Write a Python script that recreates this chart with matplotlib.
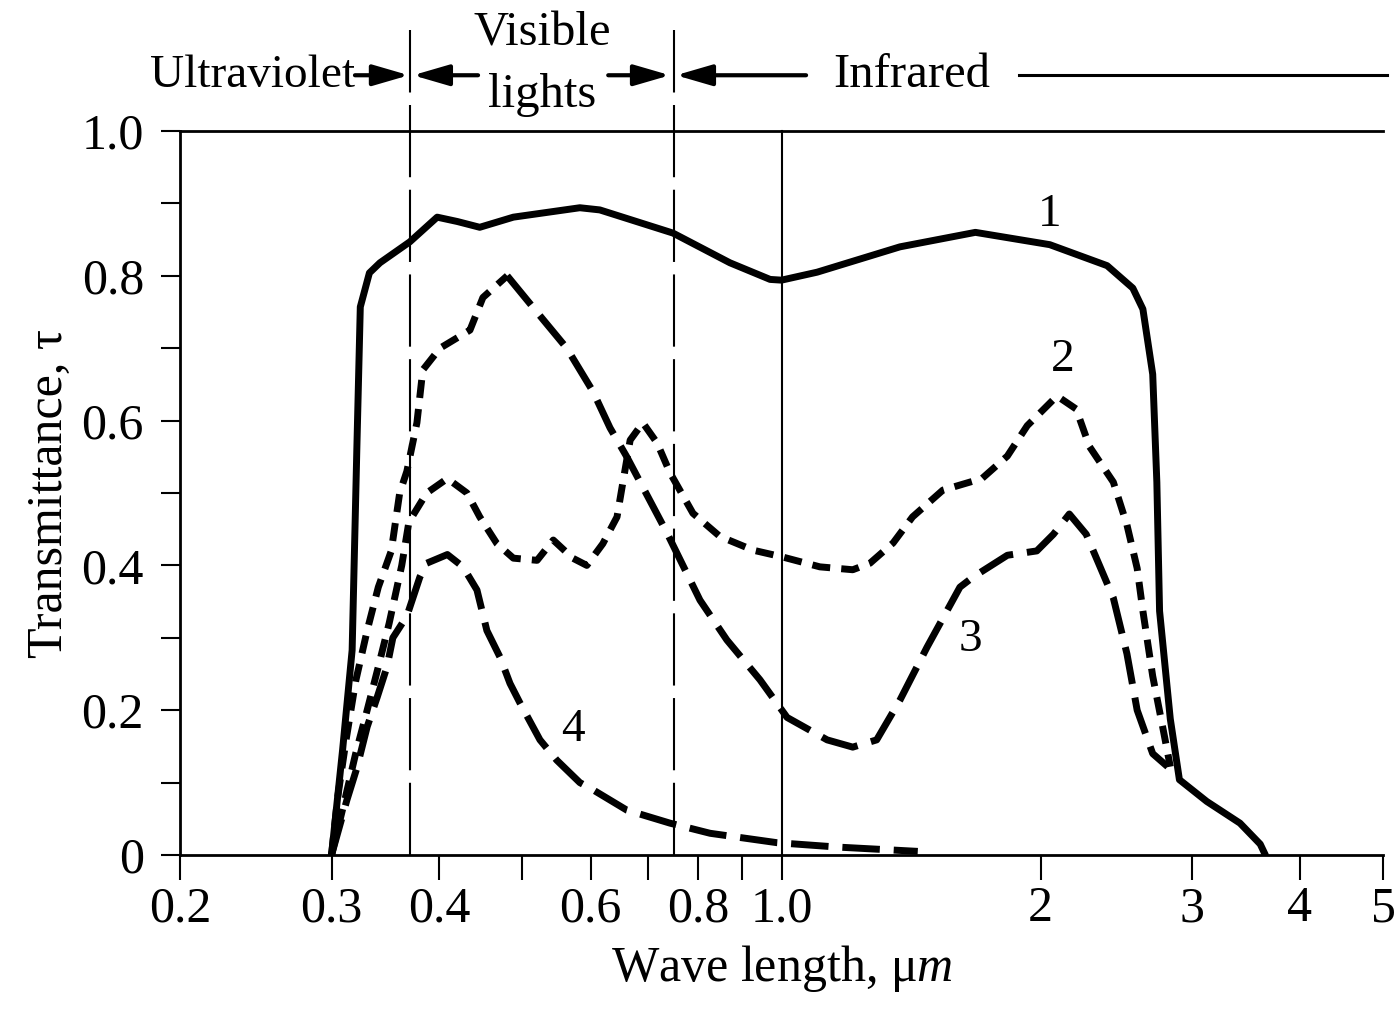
import matplotlib
matplotlib.use('Agg')
import matplotlib.pyplot as plt
from matplotlib.transforms import blended_transform_factory
from matplotlib.patches import ArrowStyle

plt.rcParams['font.family'] = ['Liberation Serif', 'DejaVu Serif']
plt.rcParams['mathtext.fontset'] = 'custom'
plt.rcParams['mathtext.rm'] = 'Liberation Serif'
plt.rcParams['mathtext.it'] = 'Liberation Serif:italic'
plt.rcParams['lines.scale_dashes'] = False

# ---------------- data ----------------
wl1 = [0.30, 0.309, 0.317, 0.321, 0.324, 0.332, 0.3415, 0.37, 0.398, 0.42, 0.446,
       0.488, 0.583, 0.615, 0.748, 0.871, 0.97, 1.0, 1.1, 1.373, 1.68, 2.05, 2.39,
       2.56, 2.63, 2.70, 2.73, 2.75, 2.83, 2.90, 3.12, 3.41, 3.60, 3.65]
tau1 = [0.0, 0.145, 0.283, 0.56, 0.757, 0.804, 0.818, 0.847, 0.881, 0.875, 0.867,
        0.881, 0.894, 0.891, 0.859, 0.818, 0.795, 0.794, 0.805, 0.84, 0.86, 0.843, 0.814,
        0.783, 0.754, 0.664, 0.515, 0.337, 0.188, 0.104, 0.074, 0.044, 0.015, 0.0]

wl2 = [0.30, 0.31, 0.32, 0.33, 0.34, 0.35, 0.362, 0.369, 0.387, 0.409, 0.431, 0.446,
       0.467, 0.488, 0.52, 0.543, 0.572, 0.594, 0.62, 0.644, 0.654, 0.667, 0.69, 0.717,
       0.742, 0.789, 0.848, 0.927, 1.0, 1.108, 1.21, 1.267, 1.348, 1.42, 1.54, 1.71,
       1.83, 1.93, 2.09, 2.20, 2.28, 2.43, 2.52, 2.59, 2.63, 2.70, 2.78, 2.83]
tau2 = [0.0, 0.07, 0.14, 0.20, 0.26, 0.32, 0.40, 0.46, 0.50, 0.52, 0.50, 0.467,
        0.43, 0.41, 0.407, 0.435, 0.41, 0.40, 0.43, 0.467, 0.514, 0.573, 0.597, 0.569,
        0.528, 0.472, 0.44, 0.421, 0.412, 0.398, 0.394, 0.403, 0.431, 0.467, 0.504, 0.52,
        0.551, 0.593, 0.634, 0.616, 0.564, 0.515, 0.456, 0.396, 0.337, 0.247, 0.17, 0.122]

wl3 = [0.30, 0.305, 0.312, 0.32, 0.33, 0.34, 0.352, 0.36, 0.367, 0.377, 0.383, 0.401,
       0.4345, 0.4498, 0.48, 0.528, 0.563, 0.604, 0.632, 0.661, 0.736, 0.804, 0.864,
       0.944, 1.015, 1.13, 1.21, 1.29, 1.373, 1.476, 1.612, 1.67, 1.83, 1.98, 2.07,
       2.16, 2.26, 2.43, 2.52, 2.59, 2.70, 2.81]
tau3 = [0.0, 0.08, 0.16, 0.24, 0.31, 0.37, 0.42, 0.50, 0.53, 0.597, 0.67, 0.70,
        0.725, 0.77, 0.80, 0.74, 0.70, 0.64, 0.59, 0.55, 0.445, 0.352, 0.297,
        0.242, 0.19, 0.159, 0.149, 0.159, 0.214, 0.287, 0.37, 0.384, 0.414, 0.42, 0.443,
        0.471, 0.443, 0.355, 0.278, 0.20, 0.14, 0.122]
peak3_index = 14   # curve 3 changes from short to long dashes at its peak

wl4 = [0.30, 0.3126, 0.321, 0.330, 0.339, 0.348, 0.3535, 0.367, 0.38, 0.387, 0.409,
       0.4265, 0.4427, 0.4546, 0.471, 0.4836, 0.4967, 0.524, 0.548, 0.583, 0.604,
       0.661, 0.742, 0.826, 0.988, 1.16, 1.44]
tau4 = [0.0, 0.076, 0.12, 0.177, 0.218, 0.26, 0.30, 0.33, 0.384, 0.403, 0.415,
        0.398, 0.366, 0.31, 0.273, 0.237, 0.21, 0.159, 0.131, 0.10, 0.09,
        0.062, 0.044, 0.030, 0.017, 0.011, 0.005]

curve_labels = ['1', '2', '3', '4']
label_wl = [2.05, 2.12, 1.66, 0.572]
label_tau = [0.884, 0.684, 0.297, 0.173]

visible_bounds = [0.37, 0.75]
ir_line = 1.0

x_ticks = [0.2, 0.3, 0.4, 0.5, 0.6, 0.7, 0.8, 0.9, 1.0, 2, 3, 4, 5]
x_ticklabels = ['0.2', '0.3', '0.4', '', '0.6', '', '0.8', '', '1.0', '2', '3', '4', '5']
y_major = [0, 0.2, 0.4, 0.6, 0.8, 1.0]
y_majorlabels = ['0', '0.2', '0.4', '0.6', '0.8', '1.0']
y_minor = [0.1, 0.3, 0.5, 0.7, 0.9]

# ---------------- figure ----------------
W, H = 1399, 1011
fig = plt.figure(figsize=(W / 100, H / 100), dpi=100)
ax = fig.add_axes([180 / W, 1 - 855 / H, (1383 - 180) / W, (855 - 131) / H])
ax.set_xscale('log')
ax.set_xlim(0.2, 5)
ax.set_ylim(0, 1.0)

LW = 5.0
long_dash = (0, (27, 10))
short_dash = (0, (13, 8))
ax.plot(wl1, tau1, color='k', lw=LW, solid_capstyle='round', solid_joinstyle='round')
ax.plot(wl2, tau2, color='k', lw=LW, linestyle=short_dash, dash_capstyle='butt',
        dash_joinstyle='round')
ax.plot(wl3[:peak3_index + 1], tau3[:peak3_index + 1], color='k', lw=LW,
        linestyle=short_dash, dash_capstyle='butt', dash_joinstyle='round')
ax.plot(wl3[peak3_index:], tau3[peak3_index:], color='k', lw=LW,
        linestyle=long_dash, dash_capstyle='butt', dash_joinstyle='round')
ax.plot(wl4, tau4, color='k', lw=LW, linestyle=long_dash, dash_capstyle='butt',
        dash_joinstyle='round')

for lab, xw, yt in zip(curve_labels, label_wl, label_tau):
    ax.text(xw, yt, lab, fontsize=34, ha='center', va='center')

# region boundaries
trans = blended_transform_factory(ax.transData, ax.transAxes)
for xb in visible_bounds:
    ax.plot([xb, xb], [0, 1.14], transform=trans, color='k', lw=1.5,
            linestyle=(0, (52, 9)), clip_on=False)
ax.plot([ir_line, ir_line], [0, 1], transform=trans, color='k', lw=1.5, clip_on=False)

# region annotations on top
ya = 1.077
astyle = ArrowStyle('-|>', head_length=1.1, head_width=0.32)
def arrow(tail, tip):
    ax.annotate('', xy=(tip, ya), xytext=(tail, ya), xycoords=trans, textcoords=trans,
                arrowprops=dict(arrowstyle=astyle, color='k', lw=3, mutation_scale=20,
                                shrinkA=0, shrinkB=0), annotation_clip=False)
arrow(0.3194, 0.369)
arrow(0.444, 0.373)
arrow(0.629, 0.742)
arrow(1.068, 0.754)
ax.plot([1.888, 5.05], [ya, ya], transform=trans, color='k', lw=2.2, clip_on=False)

ax.text(0.243, ya, 'Ultraviolet', transform=trans, fontsize=34, ha='center', va='center')
ax.text(0.527, 1.135, 'Visible', transform=trans, fontsize=35, ha='center', va='center')
ax.text(0.527, 1.05, 'lights', transform=trans, fontsize=35, ha='center', va='center')
ax.text(1.418, ya, 'Infrared', transform=trans, fontsize=35, ha='center', va='center')

# axes styling
ax.spines['right'].set_visible(False)
for s in ['left', 'bottom', 'top']:
    ax.spines[s].set_linewidth(2)

ax.set_xticks(x_ticks)
ax.set_xticklabels(x_ticklabels)
ax.xaxis.set_minor_locator(matplotlib.ticker.NullLocator())
ax.set_yticks(y_major)
ax.set_yticklabels(y_majorlabels)
ax.set_yticks(y_minor, minor=True)
ax.tick_params(axis='x', which='major', direction='out', length=18, width=1.5,
               labelsize=36, pad=4)
ax.tick_params(axis='y', which='both', direction='out', length=14, width=1.5,
               labelsize=36, pad=12)

ax.set_xlabel('Wave length, μ$m$', fontsize=36, labelpad=8)
ax.set_ylabel('Transmittance, τ', fontsize=36, labelpad=6)

fig.savefig('out.png', dpi=100)
